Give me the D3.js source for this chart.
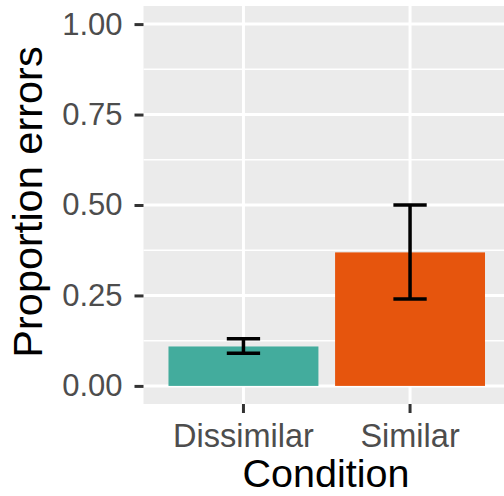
<!DOCTYPE html>
<html>
<head>
<meta charset="utf-8">
<script src="https://cdn.jsdelivr.net/npm/d3@7"></script>
<style>
  body { margin: 0; background: #fff; }
  svg { display: block; font-family: "Liberation Sans", Arial, sans-serif; }
</style>
</head>
<body>
<div id="chart"></div>
<script>
// data
var conditions = ["Dissimilar", "Similar"];
var proportions = [0.109, 0.369];
var errLow = [0.090, 0.240];
var errHigh = [0.130, 0.500];
var barColors = ["#43AC9D", "#E6550D"];
var yTicks = [0, 0.25, 0.5, 0.75, 1];
var yMinor = [0.125, 0.375, 0.625, 0.875];

var width = 504, height = 496;
var panel = { left: 143.5, right: 510, top: 6, bottom: 404 };

var svg = d3.select("#chart").append("svg")
  .attr("width", width)
  .attr("height", height);

var x = d3.scaleBand()
  .domain(conditions)
  .range([panel.left, panel.right])
  .paddingInner(0.1)
  .paddingOuter(0.15);

var y = d3.scaleLinear()
  .domain([-0.05, 1.05])
  .range([panel.bottom, panel.top]);

// panel background
svg.append("rect")
  .attr("x", panel.left)
  .attr("y", panel.top)
  .attr("width", panel.right - panel.left)
  .attr("height", panel.bottom - panel.top)
  .attr("fill", "#EBEBEB");

// grid lines
svg.append("g").selectAll("line")
  .data(yMinor)
  .enter().append("line")
  .attr("x1", panel.left).attr("x2", panel.right)
  .attr("y1", d => y(d)).attr("y2", d => y(d))
  .attr("stroke", "#fff").attr("stroke-width", 1.5);

svg.append("g").selectAll("line")
  .data(yTicks)
  .enter().append("line")
  .attr("x1", panel.left).attr("x2", panel.right)
  .attr("y1", d => y(d)).attr("y2", d => y(d))
  .attr("stroke", "#fff").attr("stroke-width", 3);

svg.append("g").selectAll("line")
  .data(conditions)
  .enter().append("line")
  .attr("x1", d => x(d) + x.bandwidth() / 2).attr("x2", d => x(d) + x.bandwidth() / 2)
  .attr("y1", panel.top).attr("y2", panel.bottom)
  .attr("stroke", "#fff").attr("stroke-width", 3);

// bars
svg.append("g").selectAll("rect")
  .data(conditions)
  .enter().append("rect")
  .attr("x", d => x(d))
  .attr("width", x.bandwidth())
  .attr("y", (d, i) => y(proportions[i]))
  .attr("height", (d, i) => y(0) - y(proportions[i]))
  .attr("fill", (d, i) => barColors[i]);

// error bars
var capHalf = x.step() * 0.1;
var err = svg.append("g").selectAll("g")
  .data(conditions)
  .enter().append("g")
  .attr("stroke", "#000")
  .attr("stroke-width", 3.5)
  .attr("fill", "none");

err.append("path")
  .attr("d", (d, i) => {
    var cx = x(d) + x.bandwidth() / 2;
    var lo = y(errLow[i]), hi = y(errHigh[i]);
    return "M" + (cx - capHalf) + "," + hi + "H" + (cx + capHalf) +
      "M" + cx + "," + hi + "V" + lo +
      "M" + (cx - capHalf) + "," + lo + "H" + (cx + capHalf);
  });

// axes
var yAxis = svg.append("g")
  .attr("transform", "translate(" + panel.left + ",0)")
  .call(d3.axisLeft(y).tickValues(yTicks).tickFormat(d3.format(".2f"))
    .tickSize(9).tickPadding(12));

var xAxis = svg.append("g")
  .attr("transform", "translate(0," + panel.bottom + ")")
  .call(d3.axisBottom(x).tickSize(9).tickPadding(11));

[yAxis, xAxis].forEach(function (ax) {
  ax.select(".domain").remove();
  ax.selectAll(".tick line").attr("stroke", "#333").attr("stroke-width", 3);
  ax.selectAll(".tick text")
    .attr("fill", "#4D4D4D")
    .style("font-family", "'Liberation Sans', Arial, sans-serif");
});
yAxis.selectAll(".tick text").style("font-size", "31px");
xAxis.selectAll(".tick text").style("font-size", "32.5px");

// axis titles
svg.append("text")
  .attr("x", 326)
  .attr("y", 487)
  .attr("text-anchor", "middle")
  .style("font-size", "39.5px")
  .attr("fill", "#000")
  .text("Condition");

svg.append("text")
  .attr("transform", "translate(42,202) rotate(-90)")
  .attr("text-anchor", "middle")
  .style("font-size", "41.5px")
  .attr("fill", "#000")
  .text("Proportion errors");
</script>
</body>
</html>
